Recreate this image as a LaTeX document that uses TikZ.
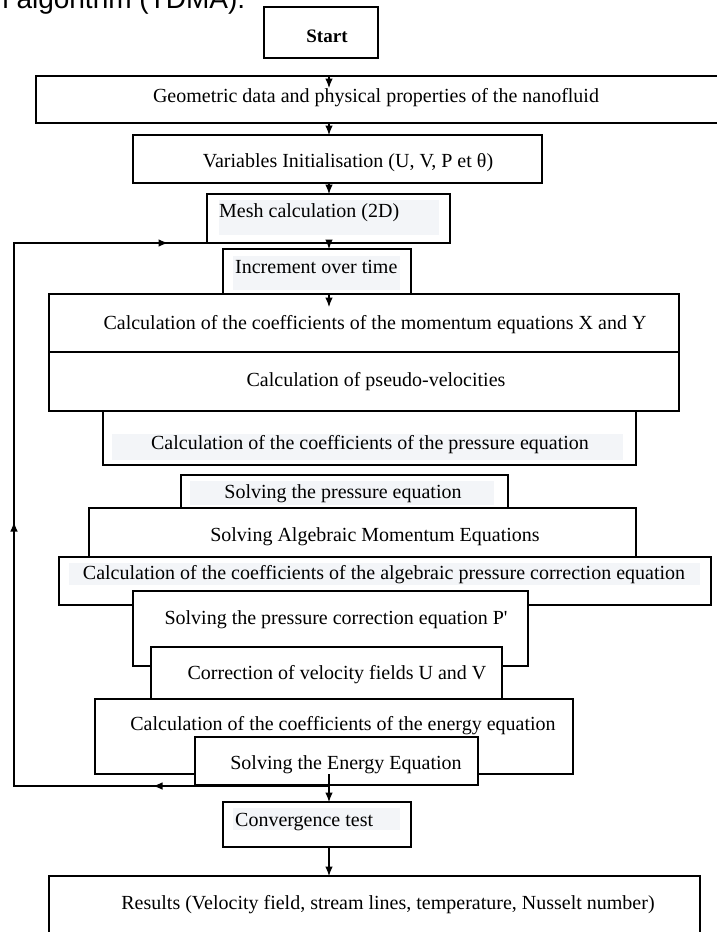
\documentclass[tikz,border=0pt]{standalone}
\usepackage{fontspec}
\setmainfont{Liberation Serif}
\newfontfamily\capfont{Liberation Sans}
\usetikzlibrary{arrows.meta}

\definecolor{hlgray}{RGB}{243,245,248}

\begin{document}
\begin{tikzpicture}[x=1pt,y=-1pt,
  box/.style={draw,fill=white,line width=1.1pt,inner sep=0pt,outer sep=0pt},
  txt/.style={font=\fontsize{20}{23}\selectfont,inner sep=0pt},
  hl/.style={fill=hlgray},
  line/.style={line width=1.1pt},
  arr/.style={line width=1.1pt,-{Latex[length=9.5pt,width=7.5pt]}}]
  \useasboundingbox (0,0) rectangle (717,932);
  \clip (0,0) rectangle (717,932);

  \node[font=\capfont\fontsize{28}{32}\selectfont,anchor=base west,inner sep=0pt] (cap) at (-7,8) {n algorithm (TDMA).};

  \coordinate (spine) at (329,0);

  \node[box,minimum width=114pt,minimum height=51pt] (start) at (321,32.5) {};
  \node[txt,font=\fontsize{19}{22}\selectfont\bfseries] (tstart) at (327,36) {Start};

  \node[box,minimum width=684pt,minimum height=47pt] (geo) at (378,99.5) {};
  \node[txt] (tgeo) at (376,98) {Geometric data and physical properties of the nanofluid};

  \node[box,minimum width=409pt,minimum height=48pt] (vars) at (337.5,159) {};
  \node[txt] (tvars) at (348,163) {Variables Initialisation (U, V, P et θ)};

  \node[box,minimum width=243pt,minimum height=49pt] (mesh) at (328.5,218.5) {};
  \fill[hl] (219,200) rectangle (439,235);
  \node[txt,anchor=west] (tmesh) at (219,213) {Mesh calculation (2D)};

  \node[box,minimum width=188pt,minimum height=45pt] (inc) at (317,271.5) {};
  \fill[hl] (233,256) rectangle (400,290);
  \node[txt,anchor=west] (tinc) at (235,267) {Increment over time};

  \node[box,minimum width=630pt,minimum height=58pt] (mom) at (364,323) {};
  \node[txt] (tmom) at (375,325) {Calculation of the coefficients of the momentum equations X and Y};

  \node[box,minimum width=630pt,minimum height=59pt] (pseudo) at (364,381.5) {};
  \node[txt] (tpseudo) at (376,382) {Calculation of pseudo-velocities};

  \node[box,minimum width=533pt,minimum height=54pt] (pcoef) at (369.5,438) {};
  \fill[hl] (112,434) rectangle (623,460);
  \node[txt] (tpcoef) at (370,445) {Calculation of the coefficients of the pressure equation};

  \node[box,minimum width=327pt,minimum height=33pt] (spres) at (344.5,491.5) {};
  \fill[hl] (190,481) rectangle (494,505);
  \node[txt] (tspres) at (343,494) {Solving the pressure equation};

  \node[box,minimum width=547pt,minimum height=49pt] (amom) at (362.5,532.5) {};
  \node[txt] (tamom) at (375,537) {Solving Algebraic Momentum Equations};

  \node[box,minimum width=652pt,minimum height=48pt] (apc) at (385,581) {};
  \fill[hl] (69,563) rectangle (700,585);
  \node[txt] (tapc) at (384,575) {Calculation of the coefficients of the algebraic pressure correction equation};

  \node[box,minimum width=395pt,minimum height=75pt] (pp) at (330.5,628.5) {};
  \node[txt] (tpp) at (336,620) {Solving the pressure correction equation P\textquotesingle};

  \node[box,minimum width=351pt,minimum height=52pt] (corr) at (326.5,673) {};
  \node[txt] (tcorr) at (337,675) {Correction of velocity fields U and V};

  \node[box,minimum width=478pt,minimum height=75pt] (ecoef) at (334,736.5) {};
  \node[txt] (tecoef) at (343,726) {Calculation of the coefficients of the energy equation};

  \node[box,minimum width=283pt,minimum height=48pt] (seng) at (336.5,761) {};
  \node[txt] (tseng) at (346,765) {Solving the Energy Equation};

  \node[box,minimum width=188pt,minimum height=45pt] (conv) at (317,824.5) {};
  \fill[hl] (233,808) rectangle (400,830);
  \node[txt,anchor=west] (tconv) at (235,822) {Convergence test};

  \node[box,minimum width=651pt,minimum height=64pt] (res) at (374.5,908) {};
  \node[txt] (tres) at (388,905) {Results (Velocity field, stream lines, temperature, Nusselt number)};

  % arrows down the spine
  \draw[arr] (spine |- geo.north) -- ++(0,12);
  \draw[arr] (spine |- geo.south) -- (spine |- vars.north);
  \draw[arr] (spine |- vars.south) -- (spine |- mesh.north);
  \draw[arr] (spine |- mesh.south) -- (spine |- inc.north);
  \draw[arr] (spine |- mom.north) -- ++(0,13);
  \draw[arr] (spine |- ecoef.south) -- (spine |- conv.north);
  \draw[arr] (spine |- conv.south) -- (spine |- res.north);

  % loop back to the time step
  \coordinate (fbL) at (14,786);
  \coordinate (fbT) at (14,243);
  \coordinate (fbA) at (153,786);
  \coordinate (fbB) at (14,522);
  \coordinate (fbC) at (168,243);
  \draw[line] (spine |- seng.south) |- (fbL) -- (fbT) -- (spine |- mesh.south);
  \draw[arr] (spine |- seng.south) |- (fbA);
  \draw[arr] (fbL) -- (fbB);
  \draw[arr] (fbT) -- (fbC);
\end{tikzpicture}
\end{document}
